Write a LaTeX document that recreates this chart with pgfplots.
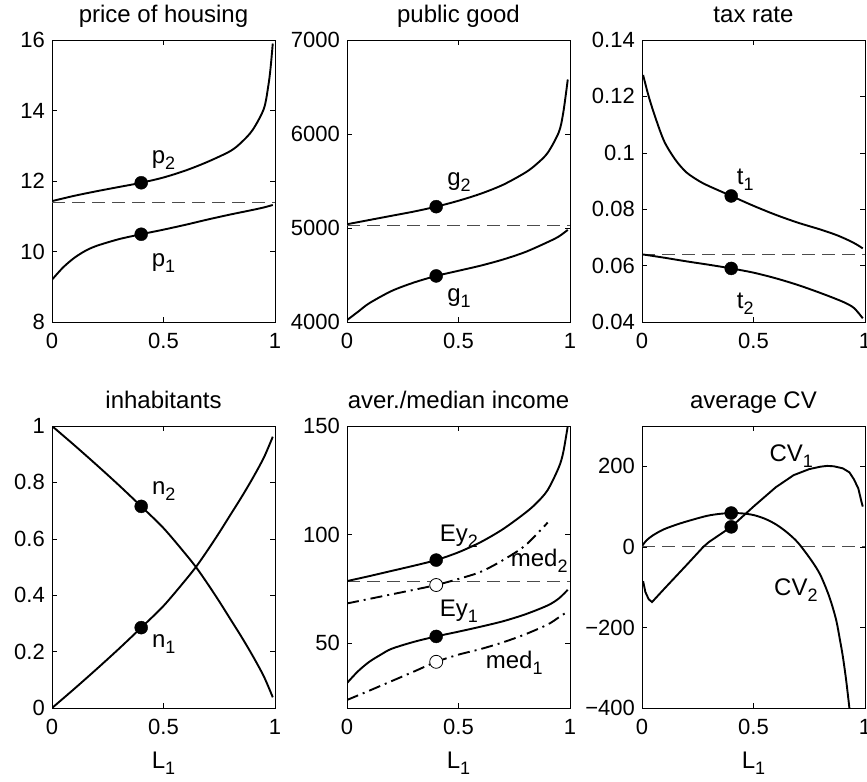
\documentclass[border=0pt]{standalone}
\usepackage{fontspec}
\setmainfont{Liberation Sans}
\usepackage{pgfplots}
\pgfplotsset{compat=1.18}
\newcommand\fs{\fontsize{22bp}{26bp}\selectfont}
\newcommand\fl{\fontsize{24bp}{28bp}\selectfont}
\newcommand\sub[1]{\raisebox{-6bp}{\fontsize{18bp}{20bp}\selectfont #1}}
\tikzset{lab/.style={font=\fl,anchor=base west,inner sep=0pt},
  xlab/.style={font=\fl,anchor=base,inner sep=0pt}}
\pgfplotsset{
  panel/.style={width=223bp,height=282bp,scale only axis,anchor=north west,
    xmin=0,xmax=1,xtick={0,0.5,1},xticklabels={0,0.5,1},
    tick align=inside,major tick length=5bp,
    tick style={black,line width=0.6bp},
    axis line style={black,line width=0.9bp},
    tick label style={font=\fs},
    xticklabel style={anchor=north,inner sep=0pt},
    xticklabel shift=11bp,
    yticklabel style={anchor=east,inner sep=0pt},
    yticklabel shift=7bp,
    title style={font=\fl,at={(0.5,1)},anchor=base,yshift=12bp,inner sep=0pt},
    clip mode=individual},
  cur/.style={black,line width=1.9bp,no markers,smooth},
  cdd/.style={black,line width=1.9bp,no markers,smooth,dash pattern=on 12bp off 5bp on 2bp off 5bp},
  ref/.style={black!70,line width=0.9bp,no markers,dash pattern=on 13bp off 7bp},
  dot/.style={only marks,mark=*,mark size=6.5bp,mark options={black,fill=black}},
  odot/.style={only marks,mark=*,mark size=6.5bp,mark options={draw=black,fill=white,line width=0.8bp}},
}
\begin{document}
\begin{tikzpicture}
\path[use as bounding box] (0,0) rectangle (867bp,-782bp);
% ---- price of housing
\begin{axis}[panel,at={(52bp,-40bp)},title={price of housing},
  ymin=8,ymax=16,ytick={8,10,12,14,16},yticklabels={8,10,12,14,16}]
\addplot[ref] coordinates {(0,11.4) (1,11.4)};
\addplot[cur] coordinates {(0,11.43) (0.1,11.58) (0.2,11.71) (0.3,11.83) (0.4,11.95) (0.5,12.1) (0.6,12.3) (0.7,12.55) (0.8,12.85) (0.85,13.1) (0.9,13.45) (0.95,14.05) (0.97,14.7) (0.98,15.2) (0.99,15.9)};
\addplot[cur] coordinates {(0,9.2) (0.05,9.55) (0.1,9.82) (0.15,10.02) (0.2,10.16) (0.3,10.35) (0.4,10.49) (0.5,10.62) (0.6,10.76) (0.7,10.91) (0.8,11.05) (0.9,11.18) (0.95,11.25) (0.99,11.32)};
\addplot[dot] coordinates {(0.4,11.95) (0.4,10.49)};
\node[lab] at (axis cs:0.447,12.5) {p\sub{2}};
\node[lab] at (axis cs:0.447,9.57) {p\sub{1}};
\end{axis}
% ---- public good
\begin{axis}[panel,at={(347bp,-40bp)},title={public good},
  ymin=4000,ymax=7000,ytick={4000,5000,6000,7000},yticklabels={4000,5000,6000,7000}]
\addplot[ref] coordinates {(0,5032) (1,5032)};
\addplot[cur] coordinates {(0,5040) (0.1,5085) (0.2,5130) (0.3,5175) (0.4,5227) (0.5,5290) (0.6,5365) (0.7,5460) (0.8,5590) (0.85,5680) (0.9,5800) (0.95,6020) (0.97,6230) (0.99,6580)};
\addplot[cur] coordinates {(0,4020) (0.05,4110) (0.1,4200) (0.2,4330) (0.3,4420) (0.4,4490) (0.5,4545) (0.6,4600) (0.7,4665) (0.8,4745) (0.9,4850) (0.95,4910) (0.99,4980)};
\addplot[dot] coordinates {(0.4,5227) (0.4,4490)};
\node[lab] at (axis cs:0.449,5457) {g\sub{2}};
\node[lab] at (axis cs:0.449,4216) {g\sub{1}};
\end{axis}
% ---- tax rate
\begin{axis}[panel,at={(642bp,-40bp)},title={tax rate},
  ymin=0.04,ymax=0.14,ytick={0.04,0.06,0.08,0.1,0.12,0.14},yticklabels={0.04,0.06,0.08,0.1,0.12,0.14}]
\addplot[ref] coordinates {(0,0.0641) (1,0.0641)};
\addplot[cur] coordinates {(0.005,0.1276) (0.03,0.12) (0.06,0.1125) (0.1,0.104) (0.15,0.0975) (0.2,0.093) (0.26,0.0898) (0.3,0.0882) (0.4,0.0847) (0.5,0.0812) (0.6,0.078) (0.7,0.0752) (0.8,0.0728) (0.87,0.0709) (0.92,0.0692) (0.96,0.0676) (0.99,0.0661)};
\addplot[cur] coordinates {(0,0.064) (0.1,0.0628) (0.2,0.0615) (0.3,0.0603) (0.4,0.059) (0.5,0.0575) (0.6,0.0555) (0.7,0.0531) (0.8,0.0503) (0.9,0.0472) (0.95,0.045) (0.99,0.0413)};
\addplot[dot] coordinates {(0.4,0.0847) (0.4,0.059)};
\node[lab] at (axis cs:0.425,0.0886) {t\sub{1}};
\node[lab] at (axis cs:0.425,0.0449) {t\sub{2}};
\end{axis}
% ---- inhabitants
\begin{axis}[panel,at={(52bp,-426bp)},title={inhabitants},
  ymin=0,ymax=1,ytick={0,0.2,0.4,0.6,0.8,1},yticklabels={0,0.2,0.4,0.6,0.8,1}]
\addplot[cur] coordinates {(0,0) (0.1,0.068) (0.2,0.138) (0.3,0.21) (0.4,0.285) (0.5,0.362) (0.6,0.455) (0.65,0.505) (0.7,0.562) (0.75,0.622) (0.8,0.685) (0.85,0.748) (0.9,0.815) (0.95,0.888) (0.99,0.962)};
\addplot[cur] coordinates {(0,1) (0.1,0.932) (0.2,0.862) (0.3,0.79) (0.4,0.715) (0.5,0.638) (0.6,0.545) (0.65,0.495) (0.7,0.438) (0.75,0.378) (0.8,0.315) (0.85,0.252) (0.9,0.185) (0.95,0.112) (0.99,0.038)};
\addplot[dot] coordinates {(0.4,0.715) (0.4,0.285)};
\node[lab] at (axis cs:0.448,0.758) {n\sub{2}};
\node[lab] at (axis cs:0.448,0.214) {n\sub{1}};
\node[xlab] at ([yshift=-60bp]rel axis cs:0.5,0) {L\sub{1}};
\end{axis}
% ---- aver./median income
\begin{axis}[panel,at={(347bp,-426bp)},title={aver./median income},
  ymin=20,ymax=150,ytick={50,100,150},yticklabels={50,100,150}]
\addplot[ref] coordinates {(0,78.3) (1,78.3)};
\addplot[cur] coordinates {(0,78.5) (0.1,80.8) (0.2,83.2) (0.3,85.6) (0.4,88.2) (0.5,91.8) (0.6,96.5) (0.7,102.5) (0.8,110) (0.85,114.5) (0.9,120.5) (0.95,131) (0.97,138) (0.99,150)};
\addplot[cdd] coordinates {(0,68.2) (0.1,70.3) (0.2,72.4) (0.3,74.5) (0.4,76.7) (0.5,79.5) (0.6,82.8) (0.7,88.2) (0.8,95) (0.9,105.5)};
\addplot[cur] coordinates {(0,31.5) (0.05,37) (0.1,41.3) (0.15,44.5) (0.2,47.3) (0.3,50.5) (0.4,53) (0.5,55.2) (0.6,57.5) (0.7,60) (0.8,63.2) (0.9,67.3) (0.95,70.5) (0.99,74.5)};
\addplot[cdd] coordinates {(0,23.7) (0.1,28) (0.2,32.4) (0.3,36.8) (0.4,41.3) (0.5,44.6) (0.6,47.2) (0.7,50.3) (0.8,54) (0.9,58.5) (0.95,61.8) (0.99,64.5)};
\addplot[dot] coordinates {(0.4,88.2) (0.4,53)};
\addplot[odot] coordinates {(0.4,76.7) (0.4,41.3)};
\node[lab] at (axis cs:0.416,96.7) {Ey\sub{2}};
\node[lab] at (axis cs:0.734,85.1) {med\sub{2}};
\node[lab] at (axis cs:0.416,62.4) {Ey\sub{1}};
\node[lab] at (axis cs:0.622,38.3) {med\sub{1}};
\node[xlab] at ([yshift=-60bp]rel axis cs:0.5,0) {L\sub{1}};
\end{axis}
% ---- average CV
\begin{axis}[panel,at={(642bp,-426bp)},title={average CV},
  ymin=-400,ymax=300,ytick={-400,-200,0,200},yticklabels={−400,−200,0,200}]
\addplot[ref] coordinates {(0,0) (1,0)};
\addplot[black,line width=1.9bp,no markers] coordinates {(0.005,-85) (0.015,-112) (0.03,-130) (0.045,-137) (0.1,-104) (0.2,-45) (0.275,0) (0.3,12) (0.4,49.6) (0.5,100) (0.6,148) (0.68,178) (0.75,193) (0.8,199) (0.83,201) (0.86,200) (0.9,195) (0.93,185) (0.95,168) (0.97,145) (0.985,110) (0.99,100)};
\addplot[cur] coordinates {(0,2) (0.02,16) (0.05,29) (0.1,44) (0.17,58) (0.25,71) (0.3,78) (0.35,82) (0.4,84) (0.45,83) (0.5,79) (0.55,70) (0.6,56) (0.65,36) (0.7,10) (0.76,-34) (0.8,-70) (0.84,-124) (0.87,-180) (0.888,-232) (0.9,-270) (0.915,-329) (0.93,-400) (0.95,-500)};
\addplot[dot] coordinates {(0.4,84) (0.4,49.6)};
\node[lab] at (axis cs:0.571,211) {CV\sub{1}};
\node[lab] at (axis cs:0.592,-120) {CV\sub{2}};
\node[xlab] at ([yshift=-60bp]rel axis cs:0.5,0) {L\sub{1}};
\end{axis}
\end{tikzpicture}
\end{document}
